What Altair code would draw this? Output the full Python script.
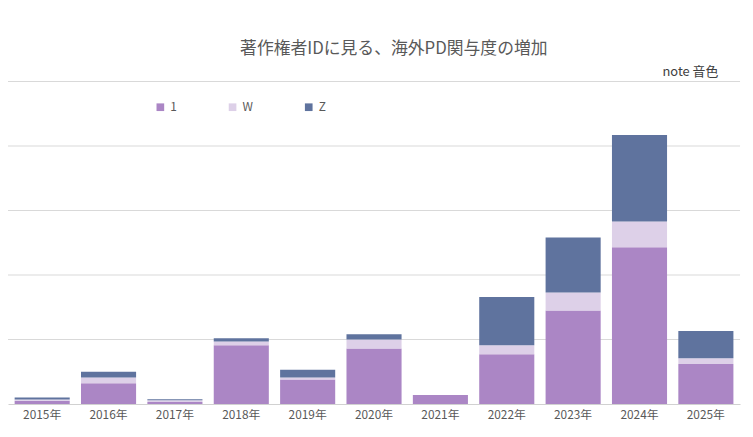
import pandas as pd
import altair as alt

years = ["2015年", "2016年", "2017年", "2018年", "2019年", "2020年",
         "2021年", "2022年", "2023年", "2024年", "2025年"]
s1 = [0.5, 3.2, 0.3, 9.1, 3.8, 8.6, 1.4, 7.7, 14.5, 24.3, 6.2]
sW = [0.2, 0.9, 0.3, 0.6, 0.3, 1.4, 0.0, 1.4, 2.8, 4.0, 0.9]
sZ = [0.3, 0.9, 0.15, 0.5, 1.2, 0.8, 0.0, 7.5, 8.5, 13.4, 4.2]
grid_values = [10, 20, 30, 40, 50]
series = ["1", "W", "Z"]
colors = ["#ab86c5", "#ddd0e8", "#5f739e"]

rows = []
for i, y in enumerate(years):
    for k, (name, vals) in enumerate(zip(series, [s1, sW, sZ])):
        rows.append({"year": y, "series": name, "order": k, "value": vals[i]})
df = pd.DataFrame(rows)

font = "Noto Sans CJK JP"
yscale = alt.Scale(domain=[0, 50])

grid = alt.Chart(pd.DataFrame({"g": grid_values})).mark_rule(
    color="#d9d9d9", strokeWidth=1
).encode(y=alt.Y("g:Q", scale=yscale, axis=None))

bars = alt.Chart(df).mark_bar().encode(
    x=alt.X("year:N", sort=years, title=None,
            scale=alt.Scale(paddingInner=0.17, paddingOuter=0.1),
            axis=alt.Axis(labelAngle=0, labelFontSize=12, labelColor="#595959",
                          labelFont=font, ticks=False, domainColor="#d0d0d0",
                          labelPadding=6)),
    y=alt.Y("value:Q", stack="zero", title=None, scale=yscale, axis=None),
    color=alt.Color("series:N", scale=alt.Scale(domain=series, range=colors),
                    legend=alt.Legend(title=None, orient="none", legendX=148, legendY=20,
                                      direction="horizontal", symbolType="square",
                                      symbolSize=60, symbolStrokeWidth=0, labelFontSize=12,
                                      labelColor="#595959", labelFont=font,
                                      columnPadding=50)),
    order=alt.Order("order:Q"),
)

title = alt.Chart(pd.DataFrame({"t": ["著作権者IDに見る、海外PD関与度の増加"]})).mark_text(
    fontSize=17, color="#595959", font=font, align="center"
).encode(text="t:N", x=alt.value(390), y=alt.value(-33))

note = alt.Chart(pd.DataFrame({"t": ["note 音色"]})).mark_text(
    fontSize=13, color="#404040", font=font, align="right"
).encode(text="t:N", x=alt.value(718), y=alt.value(-10))

chart = (grid + bars + title + note).properties(
    width=740, height=326,
    autosize=alt.AutoSizeParams(type="none"),
    padding={"left": 0, "top": 72, "right": 5, "bottom": 25},
).configure_view(stroke=None)

chart.save("out.html", embed_options={"renderer": "svg", "actions": False})
